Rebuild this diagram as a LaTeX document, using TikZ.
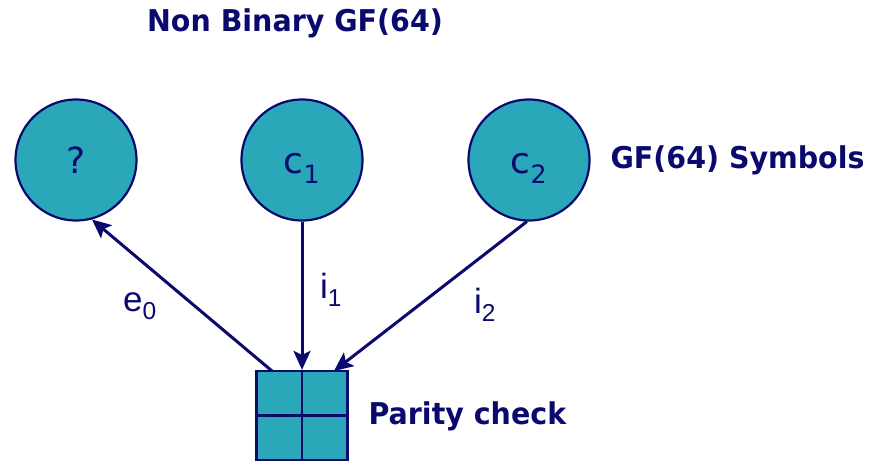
\documentclass[tikz,border=0pt]{standalone}
\usepackage{fontspec}
\setmainfont{DejaVu Sans}
\newfontfamily\labelfont{Liberation Sans}
\newfontfamily\headfont{DejaVu Sans}[FakeStretch=0.95]
\usetikzlibrary{arrows.meta}
\definecolor{navy}{HTML}{0A0A6E}
\definecolor{teal2}{HTML}{2AA8B9}
\tikzset{
  sym/.style={circle, draw=navy, line width=2.2pt, fill=teal2, minimum size=121pt, inner sep=0pt,
              text=navy, text height=27pt, text depth=0pt, font=\fontsize{36}{38}\selectfont},
  conn/.style={draw=navy, line width=3pt, -{Stealth[length=19pt,width=17pt,inset=4pt]}},
  title/.style={text=navy, font=\headfont\fontsize{30}{32}\selectfont\bfseries},
  elabel/.style={text=navy, font=\labelfont\fontsize{35}{37}\selectfont},
}
\begin{document}
\begin{tikzpicture}[x=1pt,y=-1pt]
  \useasboundingbox (0,0) rectangle (881,462);
  % variable nodes
  \node[sym] (q)  at (76,160)  {?};
  \node[sym] (c1) at (302,160) {c\textsubscript{1}};
  \node[sym] (c2) at (529,160) {c\textsubscript{2}};
  % parity check node (2x2 grid)
  \node[draw=navy, line width=2.2pt, fill=teal2, minimum width=91pt, minimum height=89pt, inner sep=0pt] (pc) at (302,415.5) {};
  \draw[navy, line width=2.2pt] (pc.north) -- (pc.south) (pc.west) -- (pc.east);
  \coordinate (pcl) at (272,371);
  \coordinate (pcr) at (334,371);
  % connectors
  \draw[conn] (pcl) -- (q.285);
  \draw[conn] (c1) -- (pc.north);
  \draw[conn] (c2.268) -- (pcr);
  % labels
  \node[elabel] (le0) at (140,306) {e\textsubscript{0}};
  \node[elabel] (li1) at (331,290) {i\textsubscript{1}};
  \node[elabel] (li2) at (485,305) {i\textsubscript{2}};
  \node[title] (t1) at (295,23) {Non Binary GF(64)};
  \node[title, anchor=west] (t2) at (607,160) {GF(64) Symbols};
  \node[title, anchor=west] (t3) at (365,416) {Parity check};
\end{tikzpicture}
\end{document}
